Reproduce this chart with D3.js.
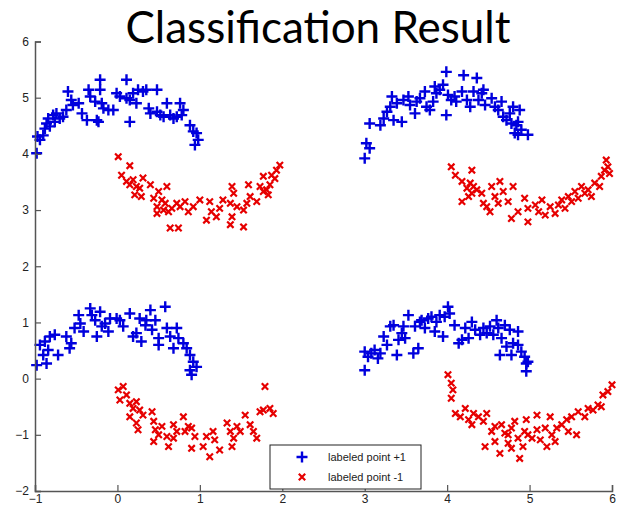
<!DOCTYPE html>
<html>
<head>
<meta charset="utf-8">
<script src="https://cdn.jsdelivr.net/npm/d3@7"></script>
<style>
  html, body { margin: 0; padding: 0; background: #fff; }
  #chart { width: 625px; height: 508px; }
</style>
</head>
<body>
<div id="chart"></div>
<script>
// positive class (+1), upper moons
var plusTopLeft = [
  [-0.98,4.01],[-0.97,4.31],[-0.94,4.25],[-0.90,4.33],[-0.88,4.45],[-0.86,4.54],[-0.84,4.63],[-0.82,4.49],
  [-0.78,4.69],[-0.76,4.57],[-0.74,4.72],[-0.70,4.63],[-0.66,4.66],[-0.62,4.78],[-0.60,5.11],[-0.56,4.96],
  [-0.54,4.87],[-0.47,4.90],[-0.43,4.72],[-0.37,4.60],[-0.35,5.14],[-0.33,5.02],[-0.27,4.93],[-0.25,4.60],
  [-0.23,4.57],[-0.21,5.32],[-0.21,5.14],[-0.19,4.90],[-0.17,4.81],[-0.11,4.78],[-0.05,4.78],[-0.01,5.08],
  [0.03,5.02],[0.11,5.32],[0.11,4.99],[0.15,4.96],[0.15,4.57],[0.19,5.08],[0.23,4.90],[0.25,5.14],
  [0.31,5.11],[0.35,5.14],[0.38,4.81],[0.40,4.72],[0.48,5.14],[0.48,4.75],[0.52,4.69],[0.56,4.66],
  [0.60,4.90],[0.64,4.69],[0.68,4.63],[0.72,4.66],[0.76,4.90],[0.78,4.69],[0.80,4.78],[0.88,4.51],
  [0.92,4.40],[0.96,4.37],[0.98,4.25],[0.94,4.16]
];
var plusTopRight = [
  [3.00,3.92],[3.02,4.19],[3.06,4.10],[3.06,4.54],[3.19,4.51],[3.23,4.63],[3.27,4.75],[3.31,4.84],
  [3.33,5.02],[3.35,4.60],[3.39,4.90],[3.45,4.57],[3.47,4.96],[3.53,5.02],[3.55,4.87],[3.61,4.72],
  [3.63,4.93],[3.67,4.99],[3.73,5.11],[3.75,4.84],[3.79,4.78],[3.83,4.93],[3.85,5.20],[3.87,5.08],
  [3.91,5.14],[3.95,5.23],[3.99,5.46],[3.99,4.69],[4.01,5.05],[4.05,4.96],[4.09,5.02],[4.11,4.93],
  [4.20,5.40],[4.18,5.11],[4.24,4.96],[4.28,4.84],[4.32,5.11],[4.36,5.35],[4.38,4.96],[4.42,5.08],
  [4.44,5.14],[4.46,4.87],[4.54,4.99],[4.58,4.84],[4.62,4.78],[4.66,4.93],[4.68,4.66],[4.72,4.60],
  [4.76,4.72],[4.80,4.84],[4.84,4.51],[4.86,4.57],[4.88,4.78],[4.86,4.34],[4.90,4.43],[4.98,4.34],
  [4.78,4.54],[4.82,4.37]
];
var plusBottomLeft = [
  [-0.98,0.24],[-0.94,0.60],[-0.90,0.42],[-0.88,0.66],[-0.86,0.27],[-0.84,0.51],[-0.82,0.75],[-0.76,0.78],
  [-0.72,0.42],[-0.62,0.75],[-0.58,0.54],[-0.56,0.63],[-0.52,0.90],[-0.47,1.13],[-0.45,0.98],[-0.41,0.84],
  [-0.33,1.25],[-0.31,1.13],[-0.27,1.04],[-0.25,0.75],[-0.21,1.19],[-0.19,0.93],[-0.15,0.98],[-0.11,0.84],
  [-0.09,1.07],[-0.01,1.07],[0.03,1.04],[0.07,0.93],[0.15,1.16],[0.19,0.75],[0.23,0.81],[0.27,1.07],
  [0.29,0.66],[0.34,0.95],[0.35,1.04],[0.40,1.22],[0.42,0.87],[0.46,1.04],[0.50,0.72],[0.50,0.60],
  [0.58,1.28],[0.60,0.90],[0.64,0.75],[0.68,0.54],[0.72,0.90],[0.74,0.72],[0.80,0.63],[0.84,0.54],
  [0.88,0.42],[0.92,0.30],[0.96,0.21],[0.90,0.07],[0.88,0.15]
];
var plusBottomRight = [
  [3.00,0.15],[3.00,0.48],[3.04,0.39],[3.08,0.45],[3.12,0.51],[3.16,0.36],[3.19,0.45],[3.23,0.75],
  [3.27,0.60],[3.31,0.93],[3.35,0.95],[3.39,0.42],[3.41,0.69],[3.45,0.81],[3.47,0.93],[3.49,0.72],
  [3.53,1.13],[3.59,0.45],[3.61,0.93],[3.65,0.54],[3.67,1.01],[3.69,1.04],[3.73,0.90],[3.77,1.07],
  [3.81,1.10],[3.85,0.84],[3.87,1.01],[3.91,1.13],[3.95,0.75],[3.97,1.10],[4.01,1.28],[4.03,1.16],
  [4.09,0.95],[4.14,0.63],[4.18,0.69],[4.22,0.90],[4.26,0.72],[4.30,1.01],[4.34,0.87],[4.40,0.78],
  [4.44,0.90],[4.48,0.81],[4.52,0.93],[4.56,0.78],[4.60,1.04],[4.62,0.90],[4.66,0.72],[4.70,0.95],
  [4.72,0.57],[4.76,0.87],[4.78,0.42],[4.80,0.63],[4.86,0.84],[4.86,0.60],[4.90,0.48],[4.94,0.39],
  [4.96,0.27],[4.96,0.13],[4.98,0.30],[4.64,0.42]
];

// negative class (-1), lower moons
var minusTopLeft = [
  [0.01,3.95],[0.15,3.79],[0.05,3.62],[0.11,3.51],[0.15,3.45],[0.19,3.54],[0.23,3.42],[0.31,3.57],
  [0.27,3.39],[0.21,3.27],[0.29,3.24],[0.40,3.45],[0.44,3.21],[0.48,3.06],[0.50,3.33],[0.54,3.18],
  [0.58,3.12],[0.60,3.42],[0.62,2.97],[0.56,3.00],[0.48,2.94],[0.66,3.03],[0.72,3.12],[0.76,3.06],
  [0.82,3.15],[0.86,2.97],[0.64,2.68],[0.74,2.68],[0.92,3.06],[1.00,3.18],[1.08,2.82],[1.12,3.15],
  [1.14,2.97],[1.20,2.88],[1.24,3.03],[1.28,3.18],[1.37,3.12],[1.39,3.42],[1.41,3.30],[1.37,2.74],
  [1.39,2.88],[1.45,3.06],[1.53,2.70],[1.53,3.00],[1.59,3.45],[1.61,3.24],[1.57,3.12],[1.69,3.15],
  [1.73,3.42],[1.77,3.60],[1.81,3.36],[1.85,3.45],[1.87,3.62],[1.91,3.56],[1.93,3.71],[1.97,3.80],
  [1.77,3.33],[1.83,3.27]
];
var minusTopRight = [
  [4.05,3.77],[4.10,3.62],[4.30,3.71],[4.18,3.51],[4.24,3.39],[4.28,3.48],[4.32,3.42],[4.30,3.30],
  [4.36,3.36],[4.42,3.30],[4.18,3.15],[4.26,3.24],[4.44,3.12],[4.48,3.06],[4.52,2.97],[4.54,3.42],
  [4.58,3.24],[4.64,3.51],[4.62,3.12],[4.68,3.33],[4.80,3.42],[4.74,3.15],[4.78,2.85],[4.86,2.97],
  [4.94,3.21],[4.98,2.79],[4.98,3.03],[5.07,3.09],[5.11,2.97],[5.15,3.18],[5.19,2.91],[5.25,3.06],
  [5.31,2.94],[5.35,3.09],[5.39,3.18],[5.43,3.03],[5.47,3.24],[5.51,3.15],[5.55,3.33],[5.59,3.21],
  [5.63,3.42],[5.67,3.30],[5.71,3.36],[5.75,3.24],[5.79,3.48],[5.85,3.42],[5.87,3.60],[5.91,3.71],
  [5.95,3.77],[5.93,3.89],[5.97,3.65]
];
var minusBottomLeft = [
  [0.01,-0.20],[0.07,-0.14],[0.03,-0.38],[0.11,-0.29],[0.15,-0.44],[0.19,-0.53],[0.23,-0.41],[0.27,-0.56],
  [0.15,-0.68],[0.23,-0.79],[0.25,-0.91],[0.31,-0.65],[0.42,-0.59],[0.44,-0.76],[0.46,-0.91],[0.44,-1.12],
  [0.50,-1.00],[0.54,-0.85],[0.60,-1.03],[0.62,-1.21],[0.68,-0.82],[0.72,-0.94],[0.68,-1.06],[0.80,-0.68],
  [0.82,-0.94],[0.86,-0.85],[0.90,-0.88],[0.90,-1.24],[0.94,-1.03],[1.04,-1.21],[1.08,-1.03],[1.12,-1.39],
  [1.16,-0.94],[1.18,-1.09],[1.24,-1.27],[1.33,-0.79],[1.37,-0.94],[1.39,-1.21],[1.41,-1.06],[1.45,-0.85],
  [1.49,-0.94],[1.55,-0.65],[1.61,-0.82],[1.65,-0.94],[1.69,-1.06],[1.73,-0.59],[1.77,-0.56],[1.79,-0.14],
  [1.85,-0.53],[1.89,-0.62]
];
var minusBottomRight = [
  [4.01,0.07],[4.05,-0.08],[4.07,-0.20],[4.05,-0.35],[4.10,-0.62],[4.16,-0.68],[4.22,-0.53],[4.26,-0.73],
  [4.32,-0.62],[4.38,-0.68],[4.30,-0.82],[4.44,-0.76],[4.48,-0.62],[4.54,-0.94],[4.58,-0.85],[4.66,-0.82],
  [4.70,-0.97],[4.74,-1.00],[4.78,-0.88],[4.82,-0.76],[4.46,-1.21],[4.58,-1.12],[4.64,-1.33],[4.74,-1.15],
  [4.78,-1.24],[4.86,-1.06],[4.88,-1.42],[4.92,-1.21],[4.94,-0.94],[4.96,-0.73],[4.98,-1.00],[5.03,-1.06],
  [5.09,-0.65],[5.09,-0.91],[5.13,-1.09],[5.19,-0.88],[5.21,-1.21],[5.25,-0.68],[5.27,-1.00],[5.31,-1.12],
  [5.33,-0.88],[5.39,-0.82],[5.45,-0.73],[5.47,-0.94],[5.51,-0.68],[5.57,-1.00],[5.59,-0.59],[5.67,-0.68],
  [5.71,-0.53],[5.77,-0.56],[5.83,-0.47],[5.87,-0.50],[5.89,-0.29],[5.95,-0.23],[6.00,-0.11]
];

var xTicks = [-1, 0, 1, 2, 3, 4, 5, 6];
var yTicks = [-2, -1, 0, 1, 2, 3, 4, 5, 6];
var legendLabels = ['labeled point +1', 'labeled point -1'];
var title = 'Classification Result';

const draw = () => {
  var width = 625, height = 508;
  var left = 35, right = 612, top = 41.5, bottom = 491;

  var svg = d3.select('#chart').append('svg')
    .attr('width', width)
    .attr('height', height);

  var x = d3.scaleLinear().domain([-1, 6]).range([left, right]);
  var y = d3.scaleLinear().domain([-2, 6]).range([bottom, top]);

  var plusPath = 'M-5.5,0H5.5M0,-5.5V5.5';
  var crossPath = 'M-3.2,-3.2L3.2,3.2M-3.2,3.2L3.2,-3.2';

  var blue = '#0000dd', red = '#e60000';

  var plusPts = [].concat(plusTopLeft, plusTopRight, plusBottomLeft, plusBottomRight);
  var minusPts = [].concat(minusTopLeft, minusTopRight, minusBottomLeft, minusBottomRight);

  svg.append('g')
      .attr('fill', 'none')
      .attr('stroke', blue)
      .attr('stroke-width', 2.4)
    .selectAll('path')
    .data(plusPts)
    .join('path')
      .attr('d', plusPath)
      .attr('transform', d => `translate(${x(d[0])},${y(d[1])})`);

  svg.append('g')
      .attr('fill', 'none')
      .attr('stroke', red)
      .attr('stroke-width', 2.2)
    .selectAll('path')
    .data(minusPts)
    .join('path')
      .attr('d', crossPath)
      .attr('transform', d => `translate(${x(d[0])},${y(d[1])})`);

  // axes: ticks point inward, like matlab
  var xAxis = svg.append('g')
    .attr('transform', `translate(0,${bottom})`)
    .call(d3.axisBottom(x).tickValues(xTicks).tickSize(-6).tickFormat(d3.format('d')));
  var yAxis = svg.append('g')
    .attr('transform', `translate(${left},0)`)
    .call(d3.axisLeft(y).tickValues(yTicks).tickSize(-6).tickPadding(6).tickFormat(d3.format('d')));

  [xAxis, yAxis].forEach(a => {
    a.attr('font-family', 'Arial, "Liberation Sans", sans-serif').attr('font-size', 12);
    a.select('.domain').attr('stroke', '#555').attr('stroke-width', 1.5);
    a.selectAll('.tick line').attr('stroke', '#555').attr('stroke-width', 1.2);
    a.selectAll('.tick text').attr('fill', '#222');
  });
  // keep the labels inside the 508px window
  xAxis.selectAll('.tick text').attr('y', 3);

  // legend
  var lg = svg.append('g').attr('transform', 'translate(270,445)');
  lg.append('rect')
    .attr('width', 151).attr('height', 44)
    .attr('fill', '#fff').attr('stroke', '#222').attr('stroke-width', 1);
  lg.append('path').attr('d', plusPath)
    .attr('transform', 'translate(32,12)')
    .attr('stroke', blue).attr('stroke-width', 2.4);
  lg.append('path').attr('d', crossPath)
    .attr('transform', 'translate(32,32)')
    .attr('stroke', red).attr('stroke-width', 2.2);
  lg.selectAll('text')
    .data(legendLabels)
    .join('text')
      .attr('x', 58)
      .attr('y', (d, i) => 16 + i * 20)
      .attr('font-family', 'Arial, "Liberation Sans", sans-serif')
      .attr('font-size', 11)
      .attr('fill', '#222')
      .text(d => d);

  svg.append('text')
    .attr('x', 318)
    .attr('y', 43)
    .attr('text-anchor', 'middle')
    .attr('font-family', 'Lato, "Open Sans", sans-serif')
    .attr('font-size', 44)
    .attr('fill', '#000')
    .text(title);
}

draw();
</script>
</body>
</html>
